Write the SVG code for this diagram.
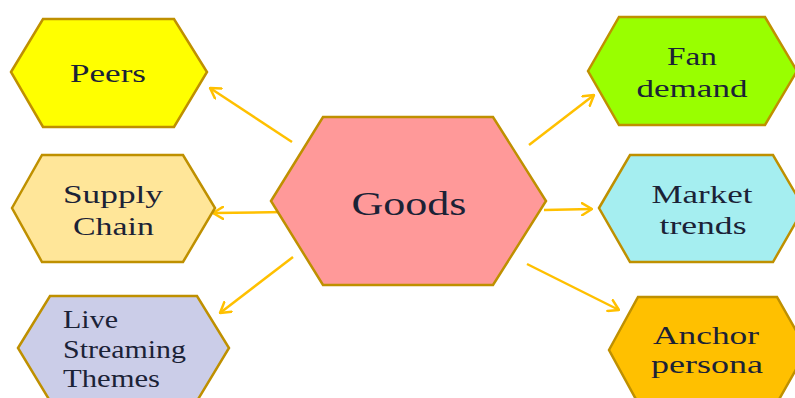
<svg xmlns="http://www.w3.org/2000/svg" width="795" height="398" viewBox="0 0 795 398">
<defs>
<style>
.hex{stroke:#BF9000;stroke-width:2.5;stroke-linejoin:miter}
.t{font-family:"Liberation Serif","Times New Roman",serif;font-size:26px;fill:#1b2236;text-anchor:middle}
.tl{font-family:"Liberation Serif","Times New Roman",serif;font-size:26px;fill:#1b2236}
.c{stroke:#FFC000;stroke-width:2.5;fill:none;marker-end:url(#ah)}
</style>
<marker id="ah" markerUnits="userSpaceOnUse" viewBox="0 0 12 14" refX="11" refY="7" markerWidth="12" markerHeight="14" orient="auto">
<path d="M1,1 L11,7 L1,13" fill="none" stroke="#FFC000" stroke-width="2.5" stroke-linecap="round" stroke-linejoin="round"/>
</marker>
</defs>
<rect width="795" height="398" fill="#ffffff"/>
<g id="connectors">
<line class="c" x1="292" y1="142" x2="210" y2="88"/>
<line class="c" x1="285" y1="212" x2="213" y2="213"/>
<line class="c" x1="293" y1="257" x2="220" y2="313"/>
<line class="c" x1="529" y1="145" x2="594" y2="95"/>
<line class="c" x1="544" y1="210" x2="592" y2="209"/>
<line class="c" x1="527" y1="264" x2="619" y2="310"/>
</g>
<g id="goods">
<polygon class="hex" fill="#FF9999" points="271,201 323,117 493,117 546,201 493,285 323,285"/>
<text class="t" x="409" y="215" font-size="34" style="font-size:34px" textLength="115" lengthAdjust="spacingAndGlyphs">Goods</text>
</g>
<g id="peers">
<polygon class="hex" fill="#FFFF00" points="11,72 43,19 174,19 207,72 174,127 43,127"/>
<text class="t" x="108" y="82" textLength="76" lengthAdjust="spacingAndGlyphs">Peers</text>
</g>
<g id="supply-chain">
<polygon class="hex" fill="#FFE699" points="12,208 42,155 183,155 215,208 183,262 42,262"/>
<text class="t" x="113" y="203" textLength="100" lengthAdjust="spacingAndGlyphs">Supply</text>
<text class="t" x="113.5" y="235" textLength="81" lengthAdjust="spacingAndGlyphs">Chain</text>
</g>
<g id="live-streaming-themes">
<polygon class="hex" fill="#CBCDE8" points="18,348 50,296 197,296 229,348 197,401 50,401"/>
<text class="tl" x="63" y="328" textLength="55" lengthAdjust="spacingAndGlyphs">Live</text>
<text class="tl" x="63" y="358" textLength="123" lengthAdjust="spacingAndGlyphs">Streaming</text>
<text class="tl" x="63" y="387" textLength="97" lengthAdjust="spacingAndGlyphs">Themes</text>
</g>
<g id="fan-demand">
<polygon class="hex" fill="#99FF00" points="588,71 619,17 765,17 797,71 765,125 619,125"/>
<text class="t" x="692" y="65" textLength="50" lengthAdjust="spacingAndGlyphs">Fan</text>
<text class="t" x="692" y="97" textLength="111" lengthAdjust="spacingAndGlyphs">demand</text>
</g>
<g id="market-trends">
<polygon class="hex" fill="#A5EEF0" points="599,208 630,155 773,155 804,208 773,262 630,262"/>
<text class="t" x="702" y="203" textLength="101" lengthAdjust="spacingAndGlyphs">Market</text>
<text class="t" x="703" y="234" textLength="87" lengthAdjust="spacingAndGlyphs">trends</text>
</g>
<g id="anchor-persona">
<polygon class="hex" fill="#FFC000" points="609,350 638,297 777,297 807,350 777,403 638,403"/>
<text class="t" x="706" y="344" textLength="106" lengthAdjust="spacingAndGlyphs">Anchor</text>
<text class="t" x="707" y="373" textLength="112" lengthAdjust="spacingAndGlyphs">persona</text>
</g>
</svg>
